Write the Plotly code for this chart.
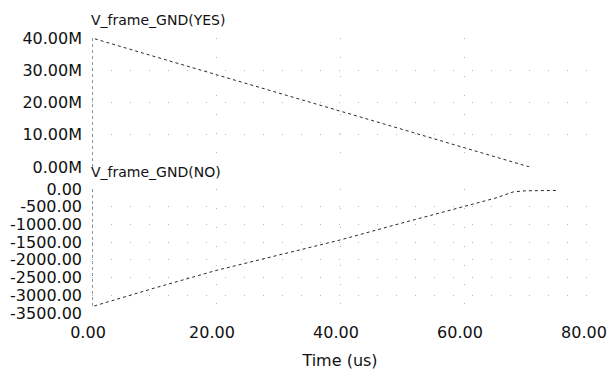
import plotly.graph_objects as go

# Time axis (us)
x_ticks = [0, 20, 40, 60, 80]
x_tick_text = ["0.00", "20.00", "40.00", "60.00", "80.00"]

# V_frame_GND(YES) in M units
time_yes = [0, 0, 10, 20, 30, 40, 50, 60, 70.6]
v_yes_m = [0.0, 40.0, 34.3, 28.7, 23.0, 17.3, 11.7, 6.0, 0.0]
yes_ticks = [0, 10, 20, 30, 40]
yes_tick_text = ["0.00M", "10.00M", "20.00M", "30.00M", "40.00M"]

# V_frame_GND(NO)
time_no = [0, 0, 10, 20, 30, 40, 50, 60, 65, 68, 70, 75]
v_no = [0, -3320, -2800, -2300, -1870, -1440, -960, -490, -260, -80, -50, -40]
no_ticks = [0, -500, -1000, -1500, -2000, -2500, -3000, -3500]
no_tick_text = ["0.00", "-500.00", "-1000.00", "-1500.00", "-2000.00",
                "-2500.00", "-3000.00", "-3500.00"]

W, H = 613, 374
M_L, M_R, M_T, M_B = 92, 25, 38, 61
PLOT_H = H - M_T - M_B


def paper_y(pix):
    return (H - M_B - pix) / PLOT_H


FONT = "DejaVu Sans"
line_style = dict(color="#2a2a2a", width=1, dash="dot")
grid_style = dict(showgrid=True, gridcolor="#b4b4b4", gridwidth=1,
                  griddash="1px,18px", zeroline=False, showline=False,
                  ticks="", automargin=False)

fig = go.Figure()
fig.add_trace(go.Scatter(x=time_yes, y=v_yes_m, mode="lines", line=line_style,
                         xaxis="x2", yaxis="y2", showlegend=False))
fig.add_trace(go.Scatter(x=time_no, y=v_no, mode="lines", line=line_style,
                         xaxis="x", yaxis="y", showlegend=False))

tick_font = dict(family=FONT, size=16, color="#111111")

fig.update_layout(
    width=W, height=H,
    margin=dict(l=M_L, r=M_R, t=M_T, b=M_B),
    paper_bgcolor="white", plot_bgcolor="white",
    xaxis=dict(domain=[0, 1], range=[0, 80], tickvals=x_ticks,
               ticktext=x_tick_text, tickfont=tick_font,
               ticklabelstandoff=8, ticklabelshift=-4,
               title=dict(text="Time (us)",
                          font=dict(family=FONT, size=16, color="#111111"),
                          standoff=13),
               anchor="y", **grid_style),
    xaxis2=dict(domain=[0, 1], range=[0, 80], tickvals=x_ticks,
                showticklabels=False, anchor="y2", matches="x", **grid_style),
    yaxis=dict(domain=[0, paper_y(189)], range=[-3500, 0], tickvals=no_ticks,
               ticktext=no_tick_text, tickfont=tick_font,
               ticklabelstandoff=9, anchor="x", **grid_style),
    yaxis2=dict(domain=[paper_y(167), 1], range=[0, 40], tickvals=yes_ticks,
                ticktext=yes_tick_text, tickfont=tick_font,
                ticklabelstandoff=9, anchor="x2", **grid_style),
    annotations=[
        dict(text="V_frame_GND(YES)", xref="paper", yref="paper",
             x=0, y=paper_y(20), xanchor="left", yanchor="middle",
             xshift=-3, showarrow=False,
             font=dict(family=FONT, size=14, color="#111111")),
        dict(text="V_frame_GND(NO)", xref="paper", yref="paper",
             x=0, y=paper_y(172), xanchor="left", yanchor="middle",
             xshift=-3, showarrow=False,
             font=dict(family=FONT, size=14, color="#111111")),
    ],
)

fig.write_html("out.html")
